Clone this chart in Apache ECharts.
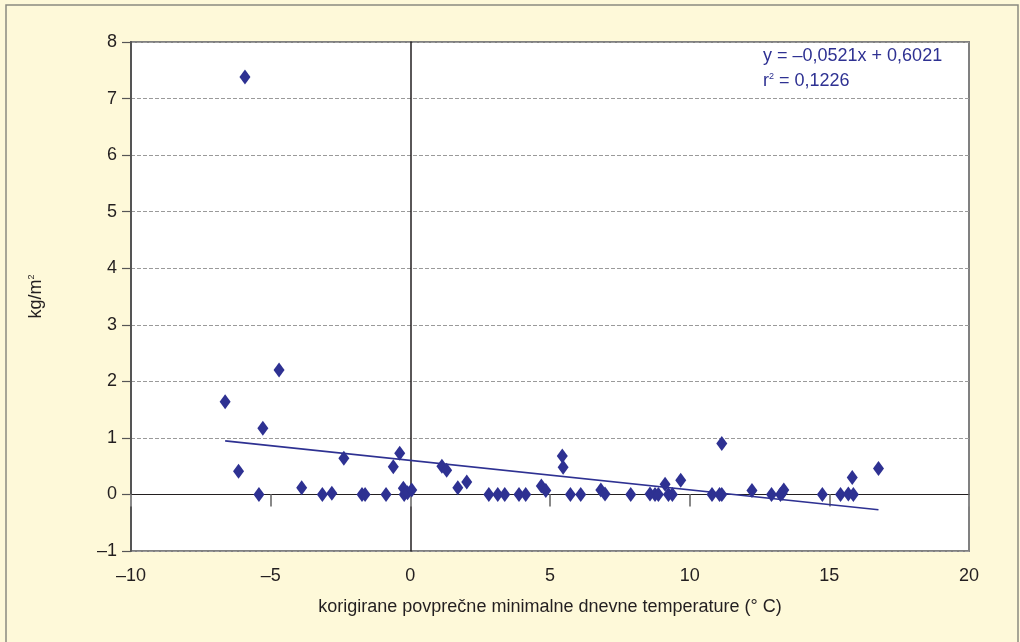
<!DOCTYPE html>
<html>
<head>
<meta charset="utf-8">
<script src="https://cdn.jsdelivr.net/npm/echarts@6/dist/echarts.min.js"></script>
<style>
  html, body { margin: 0; padding: 0; background: #fef9d9; }
  #chart { width: 1020px; height: 642px; }
</style>
</head>
<body>
<div id="chart"></div>
<script>
// temperatura (°C) in kg/m2, prebrano s slike
const tempValues = [-6.63, -5.92, -6.15, -5.42, -5.28, -4.70, -3.89, -3.15, -2.81, -2.38,
  -1.73, -1.62, -0.87, -0.61, -0.38, -0.25, -0.22, -0.10, 0.05, 1.13,
  1.30, 1.70, 2.02, 2.81, 3.13, 3.38, 3.89, 4.13, 4.69, 4.85,
  5.44, 5.47, 5.73, 6.10, 6.82, 6.97, 7.89, 8.58, 8.76, 8.88,
  9.12, 9.24, 9.38, 9.68, 10.80, 11.07, 11.15, 11.15, 12.23, 12.93,
  13.25, 13.31, 13.37, 14.75, 15.40, 15.68, 15.82, 15.86, 16.76];
const kgValues = [1.64, 7.38, 0.41, 0, 1.17, 2.20, 0.12, 0, 0.02, 0.64,
  0, 0, 0, 0.49, 0.73, 0.11, 0, 0.03, 0.08, 0.50,
  0.43, 0.12, 0.22, 0, 0, 0, 0, 0, 0.15, 0.07,
  0.68, 0.48, 0, 0, 0.08, 0.01, 0, 0.01, 0, 0,
  0.18, 0, 0, 0.25, 0, 0, 0, 0.90, 0.07, 0,
  0, 0.02, 0.08, 0, 0, 0.01, 0.30, 0, 0.46];

// linearni trend (iz enačbe na grafu)
const slope = -0.0521;
const intercept = 0.6021;
const eqText = 'y = \u20130,0521x + 0,6021';
const r2Text = 'r{sup|2} = 0,1226';

const fmt = v => String(v).replace('-', '\u2013');
const font = '"Liberation Sans", Arial, Helvetica, sans-serif';
const blue = '#2e3192';

const points = tempValues.map((x, i) => [x, kgValues[i]]);
const xMin = Math.min(...tempValues), xMax = Math.max(...tempValues);
const trend = [[xMin, slope * xMin + intercept], [xMax, slope * xMax + intercept]];

const chart = echarts.init(document.getElementById('chart'));
chart.setOption({
  backgroundColor: '#fef9d9',
  animation: false,
  textStyle: { fontFamily: font },
  graphic: [
    { type: 'rect', shape: { x: 6, y: 5, width: 1012, height: 650 },
      style: { fill: 'none', stroke: '#8a8a80', lineWidth: 1.5 }, silent: true },
    { type: 'text', left: 763, top: 47, z: 100,
      style: { text: eqText, fill: blue, font: '18px ' + font } },
    { type: 'text', left: 763, top: 72, z: 100,
      style: { text: r2Text, fill: blue, font: '18px ' + font,
        rich: { sup: { fontSize: 9, verticalAlign: 'top', lineHeight: 12, fill: blue } } } }
  ],
  grid: {
    left: 131, right: 51, top: 42, bottom: 91,
    show: true, backgroundColor: '#ffffff', borderColor: '#808080', borderWidth: 2
  },
  xAxis: [{
    type: 'value', min: -10, max: 20, interval: 5,
    position: 'bottom',
    name: 'korigirane povprečne minimalne dnevne temperature (° C)',
    nameLocation: 'middle', nameGap: 47,
    nameTextStyle: { fontSize: 18, color: '#231f20', fontFamily: font },
    axisLine: { onZero: false, show: false },
    axisTick: { show: false },
    axisLabel: { fontSize: 18, color: '#231f20', margin: 16, formatter: fmt },
    splitLine: { show: false }
  }, {
    type: 'value', min: -10, max: 20, interval: 5,
    position: 'bottom',
    axisLine: { onZero: true, lineStyle: { color: '#231f20', width: 1.2 } },
    axisTick: { show: true, inside: false, length: 12, lineStyle: { color: '#888', width: 2 } },
    axisLabel: { show: false },
    splitLine: { show: false }
  }],
  yAxis: [{
    type: 'value', min: -1, max: 8, interval: 1,
    position: 'left',
    name: 'kg/m{sup|2}',
    nameLocation: 'middle', nameGap: 86, nameRotate: 90,
    nameTextStyle: { fontSize: 18, color: '#231f20', fontFamily: font,
      rich: { sup: { fontSize: 9, verticalAlign: 'top', lineHeight: 12, color: '#231f20' } } },
    axisLine: { onZero: false, show: true, lineStyle: { color: '#555', width: 2 } },
    axisTick: { show: true, inside: false, length: 9, lineStyle: { color: '#555', width: 1.2 } },
    axisLabel: { fontSize: 18, color: '#231f20', margin: 14, formatter: fmt },
    splitLine: { show: true, lineStyle: { color: '#9a9a9a', type: [4, 2], width: 1.2 } }
  }, {
    type: 'value', min: -1, max: 8, interval: 1,
    position: 'left',
    axisLine: { onZero: true, onZeroAxisIndex: 1, lineStyle: { color: '#231f20', width: 1.5 } },
    axisTick: { show: false },
    axisLabel: { show: false },
    splitLine: { show: false }
  }],
  series: [{
    type: 'scatter',
    data: points,
    symbol: 'diamond',
    symbolSize: [11, 15],
    itemStyle: { color: blue, opacity: 1 },
    z: 5
  }, {
    type: 'line',
    data: trend,
    symbol: 'none',
    lineStyle: { color: blue, width: 1.6 },
    z: 4
  }]
});
</script>
</body>
</html>
